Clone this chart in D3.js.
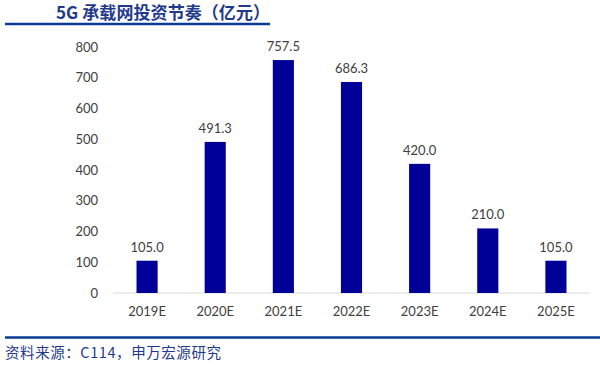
<!DOCTYPE html>
<html><head><meta charset="utf-8">
<script src="https://cdn.jsdelivr.net/npm/d3@7"></script>
<style>body{margin:0;background:#fff;}svg{display:block;}</style>
</head><body>
<svg id="c" width="600" height="365"></svg>
<script>
const categories = ["2019E","2020E","2021E","2022E","2023E","2024E","2025E"];
const values = [105.0, 491.3, 757.5, 686.3, 420.0, 210.0, 105.0];
const yTicks = [0,100,200,300,400,500,600,700,800];
const title = "5G 承载网投资节奏（亿元）";
const source = "资料来源：C114，申万宏源研究";

const svg = d3.select("#c");
const font = "Lato, 'Noto Sans CJK SC', sans-serif";
const x = d3.scaleBand().domain(categories).range([113, 590]).paddingInner(0.69).paddingOuter(0.345);
const y = d3.scaleLinear().domain([0, 800]).range([293, 47]);

svg.append("text").attr("x", 56).attr("y", 19).attr("text-anchor","start")
  .attr("font-family","'Noto Sans CJK SC', sans-serif").attr("font-weight","bold")
  .attr("font-size",17).attr("textLength",214).attr("fill","#1f3a8c").text(title);
svg.append("line").attr("x1",5).attr("x2",270).attr("y1",24).attr("y2",24)
  .attr("stroke","#0a3a94").attr("stroke-width",2.5);

const yAxis = d3.axisLeft(y).tickValues(yTicks).tickSize(0).tickPadding(0);
const gy = svg.append("g").attr("transform","translate(98,0)").call(yAxis);
gy.select(".domain").remove();
gy.selectAll("text").attr("font-family",font).attr("font-size",13).attr("fill","#404040");

svg.append("line").attr("x1",113).attr("x2",590).attr("y1",y(0)).attr("y2",y(0))
  .attr("stroke","#d9d9d9").attr("stroke-width",1.2);

svg.selectAll("rect.bar").data(values).join("rect").attr("class","bar")
  .attr("x",(d,i)=>x(categories[i])).attr("width",x.bandwidth())
  .attr("y",d=>y(d)).attr("height",d=>y(0)-y(d)).attr("fill","#000099");

svg.selectAll("text.val").data(values).join("text").attr("class","val")
  .attr("x",(d,i)=>x(categories[i])+x.bandwidth()/2).attr("y",d=>y(d)-9)
  .attr("text-anchor","middle").attr("font-family",font).attr("font-size",13)
  .attr("fill","#404040").text(d=>d.toFixed(1));

const gx = svg.append("g").attr("transform",`translate(0,${y(0)})`)
  .call(d3.axisBottom(x).tickSize(0).tickPadding(14));
gx.select(".domain").remove();
gx.selectAll("text").attr("font-family",font).attr("font-size",13).attr("fill","#404040");

svg.append("line").attr("x1",5).attr("x2",600).attr("y1",337.5).attr("y2",337.5)
  .attr("stroke","#0a3a94").attr("stroke-width",2.5);
svg.append("text").attr("x",5).attr("y",358)
  .attr("font-family","'Noto Sans CJK SC', sans-serif").attr("font-size",14.5)
  .attr("textLength",216).attr("fill","#1f3a8c").text(source);
</script>
</body></html>
